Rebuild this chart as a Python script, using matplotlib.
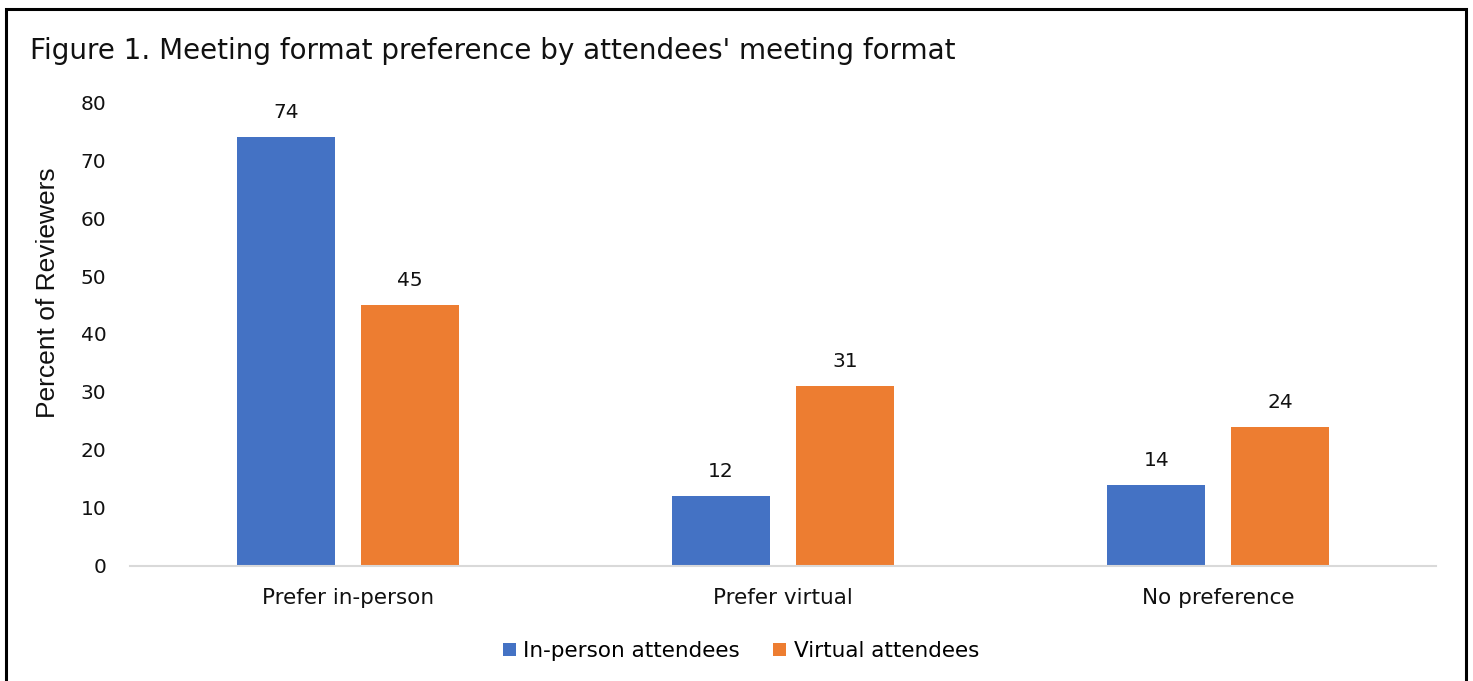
import matplotlib
matplotlib.use("Agg")
import matplotlib.pyplot as plt
import numpy as np
from matplotlib.patches import Rectangle

categories = ["Prefer in-person", "Prefer virtual", "No preference"]
in_person = [74, 12, 14]
virtual = [45, 31, 24]
series_names = ["In-person attendees", "Virtual attendees"]
y_ticks = [0, 10, 20, 30, 40, 50, 60, 70, 80]

BLUE = "#4472C4"
ORANGE = "#ED7D31"
INK = "#111111"

plt.rcParams["font.family"] = ["DejaVu Sans"]

fig = plt.figure(figsize=(14.73, 6.81), dpi=100)
ax = fig.add_axes([0.0883, 0.1689, 0.8866, 0.6813])

x = np.arange(len(categories))
w = 0.225
off = 0.1425
b1 = ax.bar(x - off, in_person, w, color=BLUE, label=series_names[0])
b2 = ax.bar(x + off, virtual, w, color=ORANGE, label=series_names[1])

for bars, vals in ((b1, in_person), (b2, virtual)):
    for rect, v in zip(bars, vals):
        ax.annotate(str(v), (rect.get_x() + rect.get_width() / 2, v),
                    xytext=(0, 11), textcoords="offset points",
                    ha="center", va="bottom", fontsize=14.5, color=INK)

ax.set_xlim(-0.5, 2.5)
ax.set_ylim(0, 80)
ax.set_yticks(y_ticks)
ax.set_xticks(x)
ax.set_xticklabels(categories)
ax.tick_params(axis="both", length=0, colors=INK)
ax.tick_params(axis="y", pad=17, labelsize=14.5)
ax.tick_params(axis="x", pad=16, labelsize=15.5)
for s in ("top", "right", "left"):
    ax.spines[s].set_visible(False)
ax.spines["bottom"].set_color("#D9D9D9")
ax.spines["bottom"].set_linewidth(1.5)

ax.set_ylabel("Percent of Reviewers", fontsize=19, color=INK,
              family="Liberation Sans")
ax.yaxis.set_label_coords(-0.0537, 0.59)

fig.text(0.0204, 0.925, "Figure 1. Meeting format preference by attendees' meeting format",
         fontsize=20, color=INK, ha="left", va="center")

leg = fig.legend(handles=[b1, b2], loc="center", bbox_to_anchor=(0.503, 0.044),
                 ncol=2, frameon=False, fontsize=15.5, handlelength=0.6,
                 handleheight=0.6, handletextpad=0.35, columnspacing=1.55)

# outer frame
fig.patches.append(Rectangle((0.0041, -0.05), 0.9912, 1.037, transform=fig.transFigure,
                             fill=False, edgecolor="black", linewidth=2.2))

fig.savefig("out.png", dpi=100)
